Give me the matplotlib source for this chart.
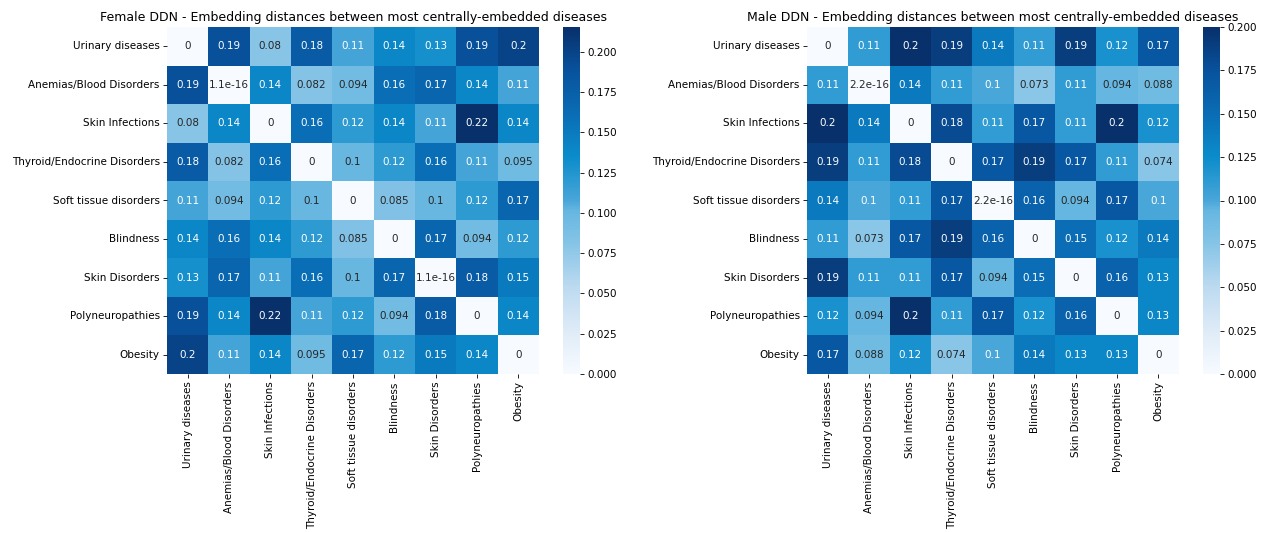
import numpy as np
import matplotlib
matplotlib.use("Agg")
import matplotlib.pyplot as plt
from matplotlib.colors import LinearSegmentedColormap
import seaborn as sns

# Diseases (same order on both axes)
diseases = ["Urinary diseases", "Anemias/Blood Disorders", "Skin Infections",
            "Thyroid/Endocrine Disorders", "Soft tissue disorders", "Blindness",
            "Skin Disorders", "Polyneuropathies", "Obesity"]

# Embedding distances, female network
female_dist = np.array([
    [0, 0.19, 0.08, 0.18, 0.11, 0.14, 0.13, 0.19, 0.2],
    [0.19, 1.1e-16, 0.14, 0.082, 0.094, 0.16, 0.17, 0.14, 0.11],
    [0.08, 0.14, 0, 0.16, 0.12, 0.14, 0.11, 0.2155, 0.14],
    [0.18, 0.082, 0.16, 0, 0.1, 0.12, 0.16, 0.11, 0.095],
    [0.11, 0.094, 0.12, 0.1, 0, 0.085, 0.1, 0.12, 0.17],
    [0.14, 0.16, 0.14, 0.12, 0.085, 0, 0.17, 0.094, 0.12],
    [0.13, 0.17, 0.11, 0.16, 0.1, 0.17, 1.1e-16, 0.18, 0.15],
    [0.19, 0.14, 0.2155, 0.11, 0.12, 0.094, 0.18, 0, 0.14],
    [0.2, 0.11, 0.14, 0.095, 0.17, 0.12, 0.15, 0.14, 0],
])

# Embedding distances, male network
male_dist = np.array([
    [0, 0.11, 0.2, 0.19, 0.14, 0.11, 0.19, 0.12, 0.17],
    [0.11, 2.2e-16, 0.14, 0.11, 0.1, 0.073, 0.11, 0.094, 0.088],
    [0.2, 0.14, 0, 0.18, 0.11, 0.17, 0.11, 0.2, 0.12],
    [0.19, 0.11, 0.18, 0, 0.17, 0.19, 0.17, 0.11, 0.074],
    [0.14, 0.1, 0.11, 0.17, 2.2e-16, 0.16, 0.094, 0.17, 0.1],
    [0.11, 0.073, 0.17, 0.19, 0.16, 0, 0.15, 0.12, 0.14],
    [0.19, 0.11, 0.11, 0.17, 0.094, 0.15, 0, 0.16, 0.13],
    [0.12, 0.094, 0.2, 0.11, 0.17, 0.12, 0.16, 0, 0.13],
    [0.17, 0.088, 0.12, 0.074, 0.1, 0.14, 0.13, 0.13, 0],
])

titles = ["Female DDN - Embedding distances between most centrally-embedded diseases",
          "Male DDN - Embedding distances between most centrally-embedded diseases"]

# brighter blue ramp
cmap = LinearSegmentedColormap.from_list("blues_bright", [
    (0.0, "#f7fbff"), (0.125, "#deebf7"), (0.25, "#bcdaf0"), (0.375, "#86c4e6"),
    (0.47, "#66b6e0"), (0.5, "#4aa6d8"), (0.625, "#0b8ccb"), (0.75, "#0a6db5"),
    (0.875, "#08529d"), (1.0, "#08306b")])

W, H = 1266, 533
DPI = 75
fig = plt.figure(figsize=(W / DPI, H / DPI), dpi=DPI)

panels = [(167, 563, female_dist, titles[0]), (807, 1203, male_dist, titles[1])]
for ax_x, cb_x, dist, title in panels:
    ax = fig.add_axes([ax_x / W, (H - 374) / H, 372 / W, 347 / H])
    cax = fig.add_axes([cb_x / W, (H - 374) / H, 17 / W, 347 / H])
    sns.heatmap(dist, ax=ax, cbar_ax=cax, cmap=cmap, vmin=0, annot=True,
                xticklabels=diseases, yticklabels=diseases)
    ax.set_xticklabels(diseases, rotation=90)
    ax.set_yticklabels(diseases, rotation=0)
    ax.set_title(title)

fig.savefig("out.png", dpi=DPI)
